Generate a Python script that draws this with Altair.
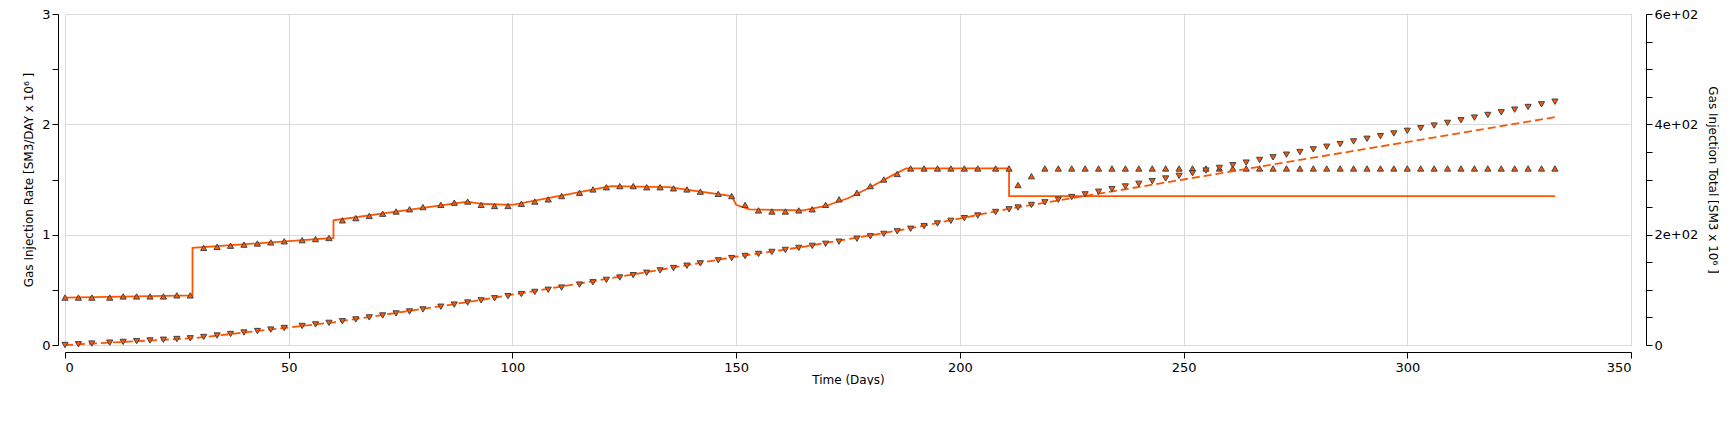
import altair as alt
import pandas as pd

ORANGE = "#FF5500"

# observed marker times (days)
obs_t = [0, 3, 6, 10, 13, 16, 19, 22, 25, 28,
         31, 34, 37, 40, 43, 46, 49, 53, 56, 59,
         62, 65, 68, 71, 74, 77, 80, 84, 87, 90,
         93, 96, 99, 102, 105, 108, 111, 115, 118, 121,
         124, 127, 130, 133, 136, 139, 142, 146, 149, 152,
         155, 158, 161, 164, 167, 170, 173, 177, 180, 183,
         186, 189, 192, 195, 198, 201, 204, 208, 211, 213,
         216, 219, 222, 225, 228, 231, 234, 237, 240, 243,
         246, 249, 252, 255, 258, 261, 264, 267, 270, 273,
         276, 279, 282, 285, 288, 291, 294, 297, 300, 303,
         306, 309, 312, 315, 318, 321, 324, 327, 330, 333]

obs_rate = [0.43, 0.43, 0.43, 0.43, 0.44, 0.44, 0.44, 0.44, 0.45, 0.45,
            0.88, 0.89, 0.90, 0.91, 0.92, 0.93, 0.94, 0.95, 0.96, 0.97,
            1.13, 1.15, 1.17, 1.19, 1.21, 1.23, 1.25, 1.27, 1.29, 1.30,
            1.27, 1.26, 1.26, 1.28, 1.30, 1.32, 1.35, 1.38, 1.41, 1.43,
            1.44, 1.44, 1.43, 1.43, 1.42, 1.41, 1.39, 1.37, 1.35, 1.27,
            1.22, 1.21, 1.21, 1.22, 1.23, 1.27, 1.32, 1.38, 1.44, 1.50,
            1.55, 1.60, 1.60, 1.60, 1.60, 1.60, 1.60, 1.60, 1.60, 1.45,
            1.53, 1.60, 1.60, 1.60, 1.60, 1.60, 1.60, 1.60, 1.60, 1.60,
            1.60, 1.60, 1.60, 1.60, 1.60, 1.60, 1.60, 1.60, 1.60, 1.60,
            1.60, 1.60, 1.60, 1.60, 1.60, 1.60, 1.60, 1.60, 1.60, 1.60,
            1.60, 1.60, 1.60, 1.60, 1.60, 1.60, 1.60, 1.60, 1.60, 1.60]

obs_total = [0, 1.3, 2.6, 4.3, 5.6, 6.9, 8.2, 9.5, 10.8, 12.1,
             14.5, 17.2, 19.9, 22.6, 25.3, 28.0, 30.8, 34.5, 37.3, 40.1,
             43.0, 46.4, 50.0, 53.5, 57.2, 60.8, 64.5, 69.4, 73.2, 77.0,
             80.9, 84.7, 88.5, 92.3, 96.2, 100.1, 104.1, 109.5, 113.7, 118.0,
             122.3, 126.6, 130.9, 135.2, 139.5, 143.7, 147.9, 153.4, 157.5, 161.4,
             165.1, 168.7, 172.3, 176.0, 179.7, 183.4, 187.3, 192.7, 197.0, 201.4,
             206.0, 210.7, 215.5, 220.3, 225.1, 229.9, 234.7, 241.1, 245.9, 249.2,
             253.8, 258.6, 263.4, 268.2, 273.0, 277.8, 282.6, 287.4, 292.2, 297.0,
             301.8, 306.6, 311.4, 316.2, 321.0, 325.8, 330.6, 335.4, 340.2, 345.0,
             349.8, 354.6, 359.4, 364.2, 369.0, 373.8, 378.6, 383.4, 388.2, 393.0,
             397.8, 402.6, 407.4, 412.2, 417.0, 421.8, 426.6, 431.4, 436.2, 441.0]

# simulated rate (solid line)
sim_rate_t = [0, 28.5, 28.5, 60, 60, 90, 93, 100, 122, 135, 149, 150, 153, 165,
              170, 175, 180, 185, 188, 211, 211, 333]
sim_rate_v = [0.43, 0.45, 0.88, 0.97, 1.13, 1.30, 1.28, 1.27, 1.44, 1.43, 1.35, 1.27, 1.23, 1.22,
              1.26, 1.33, 1.43, 1.54, 1.60, 1.60, 1.35, 1.35]

# simulated total (dashed line)
sim_tot_t = [0, 29, 60, 91, 122, 150, 165, 188, 211, 333]
sim_tot_v = [0, 12.5, 41, 79, 121, 160, 178, 210, 247, 413]

obs = pd.DataFrame({"t": obs_t, "rate": obs_rate, "total": obs_total})
sr = pd.DataFrame({"t": sim_rate_t, "v": sim_rate_v, "i": range(len(sim_rate_t))})
st = pd.DataFrame({"t": sim_tot_t, "v": sim_tot_v})

font = "DejaVu Sans"
xax = alt.X("t:Q", scale=alt.Scale(domain=[0, 350], nice=False),
            axis=alt.Axis(title="Time (Days)", values=list(range(0, 351, 50)), offset=7,
                          titlePadding=0, labelPadding=3))

left_axis = alt.Axis(
    title="Gas Injection Rate [SM3/DAY x 10⁶ ]", orient="left", offset=7,
    values=[0, 0.5, 1, 1.5, 2, 2.5, 3],
    labelExpr="datum.value % 1 == 0 ? datum.value : ''",
    gridOpacity={"condition": {"test": "datum.value % 1 != 0", "value": 0}, "value": 1},
    titlePadding=6,
)
yl = alt.Scale(domain=[0, 3], nice=False)

right_axis = alt.Axis(
    title="Gas Injection Total [SM3 x 10⁶ ]", orient="right", offset=15, grid=False,
    values=list(range(0, 601, 50)),
    labelExpr="datum.value == 0 ? '0' : (datum.value % 200 == 0 ? (datum.value/100) + 'e+02' : '')",
    titleAngle=90, titlePadding=8,
)
yr = alt.Scale(domain=[0, 600], nice=False)

rate_line = alt.Chart(sr).mark_line(color=ORANGE, strokeWidth=1.8).encode(
    x=xax, y=alt.Y("v:Q", scale=yl, axis=left_axis), order="i:Q")
rate_pts = alt.Chart(obs).mark_point(shape="triangle-up", filled=True, fill=ORANGE,
                                     stroke="#444444", strokeWidth=1, size=38, opacity=1).encode(
    x=xax, y=alt.Y("rate:Q", scale=yl, axis=left_axis))

tot_line = alt.Chart(st).mark_line(color=ORANGE, strokeWidth=1.8, strokeDash=[8, 4]).encode(
    x=xax, y=alt.Y("v:Q", scale=yr, axis=right_axis))
tot_pts = alt.Chart(obs).mark_point(shape="triangle-down", filled=True, fill=ORANGE,
                                    stroke="#444444", strokeWidth=1, size=38, opacity=1).encode(
    x=xax, y=alt.Y("total:Q", scale=yr, axis=right_axis))

left = alt.layer(rate_line, rate_pts)
right = alt.layer(tot_line, tot_pts)

chart = alt.layer(left, right).resolve_scale(y="independent").resolve_axis(y="independent").properties(
    width=1566, height=331, padding={"left": 14, "top": 0, "right": 0, "bottom": 0},
    background="white",
).configure_view(stroke=None).configure_axis(
    labelFont=font, titleFont=font, labelFontSize=13, titleFontSize=12,
    titleFontWeight="normal", labelColor="#000", titleColor="#000",
    domainColor="#000", tickColor="#000", gridColor="#d9d9d9", tickSize=6,
)

chart.save("out.html", embed_options={"renderer": "svg", "actions": False})
